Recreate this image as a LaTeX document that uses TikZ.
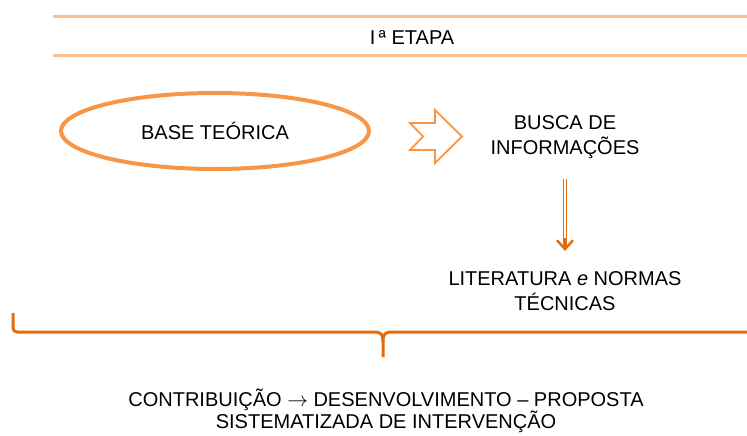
\documentclass[tikz,border=0pt]{standalone}
\usepackage{fontspec}
\setmainfont{Liberation Sans}
\usetikzlibrary{arrows.meta,shapes.geometric}
\definecolor{peach}{HTML}{FAC090}
\definecolor{lightorange}{HTML}{F79646}
\definecolor{darkorange}{HTML}{E46C0A}

\begin{document}
\begin{tikzpicture}[x=1pt,y=1pt]
\tikzstyle{every node}+=[inner sep=0pt, align=center, font=\fontsize{20}{25}\selectfont]
\useasboundingbox (0,0) rectangle (747,-436);
\draw [peach, line width=3] (53,-17) -- (747,-17);
\draw [peach, line width=3] (53,-56) -- (747,-56);
\draw (412,-38) node (etapa) {I\,ª ETAPA};
\draw (215,-131) node [ellipse, draw=lightorange, line width=4, minimum width=308, minimum height=76] (base) {BASE TEÓRICA};
\draw [lightorange, line width=1.8] (410,-123) -- (435,-123) -- (435,-110) -- (462,-136.5) -- (435,-163) -- (435,-150) -- (410,-150) -- (423,-136.5) -- cycle;
\draw (565,-137) node (busca) {BUSCA DE\\INFORMAÇÕES};
\draw (565,-291) node (literatura) {LITERATURA \textit{e} NORMAS\\TÉCNICAS};
\draw [darkorange, line width=0.8, double distance=1.6, shorten <=20, shorten >=24] (busca) -- (literatura);
\coordinate (tipa) at (565,-238);
\coordinate (tipb) at (565,-251);
\draw [darkorange, line width=2.4, -{Straight Barb[length=9,width=16]}] (tipa) -- (tipb);
\draw [darkorange, line width=3, rounded corners=4] (13,-313) -- (13,-332) -- (374,-332);
\draw [darkorange, line width=3] (374,-332) .. controls (381,-332) and (383,-334) .. (383,-342) -- (383,-357);
\draw [darkorange, line width=3] (383,-342) .. controls (383,-334) and (385,-332) .. (392,-332) -- (747,-332);
\draw (386,-411) node [font=\fontsize{20}{22}\selectfont] (contrib) {CONTRIBUIÇÃO $\rightarrow$ DESENVOLVIMENTO – PROPOSTA\\SISTEMATIZADA DE INTERVENÇÃO};
\end{tikzpicture}
\end{document}
